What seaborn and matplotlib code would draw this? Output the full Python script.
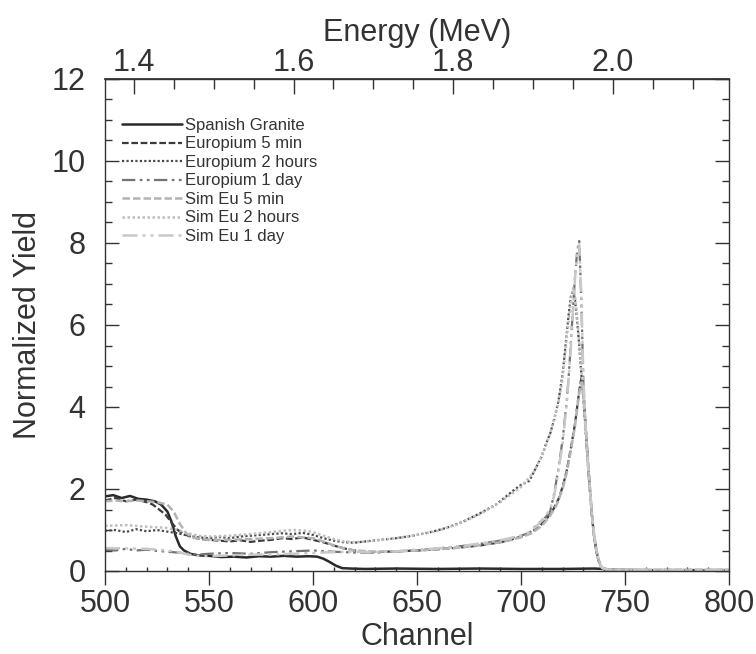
import numpy as np
import pandas as pd
import matplotlib
matplotlib.use("Agg")
import matplotlib.pyplot as plt
from matplotlib.ticker import MultipleLocator, FixedLocator, FormatStrFormatter
import seaborn as sns

# ---------------------------------------------------------------- data
granite_ch = [500, 504, 508, 512, 516, 520, 524, 527, 530, 532, 534, 536, 538, 541, 545,
              550, 556, 562, 568, 574, 580, 586, 592, 598, 602, 605, 608, 611, 614, 618,
              625, 640, 660, 680, 700, 720, 735, 740, 745, 760, 780, 800]
granite_y = [1.82, 1.85, 1.78, 1.83, 1.76, 1.74, 1.70, 1.62, 1.45, 1.20, 0.85, 0.60, 0.50,
             0.42, 0.38, 0.37, 0.34, 0.35, 0.33, 0.36, 0.35, 0.37, 0.35, 0.36, 0.35, 0.30,
             0.22, 0.13, 0.07, 0.06, 0.05, 0.06, 0.05, 0.06, 0.05, 0.05, 0.06, 0.05, 0.03,
             0.02, 0.02, 0.02]

eu5_ch = [500, 505, 510, 515, 520, 523, 526, 529, 532, 535, 538, 542, 546, 550, 555, 560,
          565, 570, 575, 580, 585, 590, 595, 600, 605, 610, 615, 620, 625, 630, 640, 650,
          660, 670, 680, 690, 695, 700, 704, 708, 712, 715, 718, 720, 722, 724, 726, 727,
          728, 729, 730, 731, 732, 733, 734, 735, 736, 737, 738, 739, 741, 745, 760, 780, 800]
eu5_y = [1.72, 1.78, 1.70, 1.74, 1.68, 1.62, 1.50, 1.38, 1.18, 1.00, 0.90, 0.82, 0.78,
         0.76, 0.74, 0.72, 0.75, 0.71, 0.74, 0.76, 0.80, 0.78, 0.82, 0.76, 0.70, 0.62,
         0.55, 0.50, 0.47, 0.46, 0.48, 0.50, 0.53, 0.57, 0.62, 0.70, 0.76, 0.84, 0.92,
         1.05, 1.25, 1.45, 1.75, 2.05, 2.45, 3.00, 3.60, 4.00, 4.40, 4.70, 4.30, 3.60,
         2.80, 2.10, 1.40, 0.90, 0.55, 0.32, 0.17, 0.08, 0.03, 0.02, 0.02, 0.02, 0.02]

eu2h_ch = [500, 505, 510, 515, 520, 525, 530, 535, 540, 545, 550, 555, 560, 565, 570, 575,
           580, 585, 590, 595, 600, 605, 610, 615, 620, 625, 632, 640, 648, 656, 664, 672,
           680, 688, 696, 700, 704, 707, 710, 712, 714, 716, 718, 720, 721, 722, 723, 724,
           725, 726, 727, 728, 729, 730, 731, 732, 733, 734, 735, 736, 737, 738, 739, 741,
           745, 760, 780, 800]
eu2h_y = [0.98, 1.00, 0.95, 1.02, 0.97, 1.00, 0.96, 0.92, 0.86, 0.82, 0.80, 0.83, 0.80,
          0.84, 0.86, 0.88, 0.90, 0.92, 0.90, 0.93, 0.88, 0.80, 0.74, 0.70, 0.69, 0.72,
          0.76, 0.80, 0.86, 0.94, 1.05, 1.20, 1.40, 1.62, 1.95, 2.10, 2.20, 2.50, 2.80,
          3.10, 3.35, 3.70, 4.15, 4.80, 5.30, 5.80, 6.30, 6.70, 6.85, 6.60, 6.10, 5.50,
          4.80, 4.20, 3.50, 2.80, 2.10, 1.40, 0.90, 0.55, 0.30, 0.15, 0.07, 0.03, 0.02,
          0.02, 0.02, 0.02]

eu1d_ch = [500, 505, 510, 515, 520, 525, 530, 535, 540, 545, 550, 560, 570, 580, 590, 600,
           610, 620, 630, 640, 650, 660, 670, 680, 690, 700, 704, 708, 710, 712, 714, 716,
           718, 720, 722, 723, 724, 725, 726, 727, 728, 729, 730, 731, 732, 733, 734, 735,
           736, 737, 738, 739, 741, 745, 760, 780, 800]
eu1d_y = [0.52, 0.50, 0.54, 0.50, 0.52, 0.49, 0.47, 0.45, 0.43, 0.40, 0.42, 0.44, 0.42,
          0.46, 0.48, 0.50, 0.47, 0.45, 0.45, 0.48, 0.50, 0.55, 0.60, 0.66, 0.74, 0.86,
          0.93, 1.15, 1.22, 1.32, 1.45, 1.90, 2.50, 3.20, 4.15, 4.80, 5.60, 6.40, 7.20,
          7.80, 8.05, 6.60, 4.60, 3.50, 2.70, 2.00, 1.40, 0.90, 0.55, 0.30, 0.15, 0.07,
          0.03, 0.02, 0.02, 0.02, 0.02]

sim5_ch = [500, 505, 510, 515, 520, 525, 530, 533, 536, 539, 542, 546, 550, 560, 570, 580,
           590, 600, 605, 610, 615, 620, 630, 640, 650, 660, 670, 680, 690, 700, 705, 710,
           714, 717, 720, 722, 724, 726, 727, 728, 729, 730, 731, 732, 733, 734, 735, 736,
           737, 738, 739, 741, 745, 760, 780, 800]
sim5_y = [1.70, 1.72, 1.70, 1.72, 1.70, 1.68, 1.62, 1.45, 1.15, 0.92, 0.82, 0.78, 0.76,
          0.76, 0.78, 0.80, 0.84, 0.80, 0.72, 0.62, 0.55, 0.50, 0.47, 0.48, 0.50, 0.53,
          0.57, 0.63, 0.70, 0.82, 0.92, 1.10, 1.35, 1.60, 2.00, 2.40, 2.95, 3.55, 3.95,
          4.35, 4.60, 4.30, 3.60, 2.85, 2.15, 1.45, 0.95, 0.60, 0.33, 0.17, 0.08, 0.04,
          0.03, 0.03, 0.03, 0.03]

sim2h_ch = [500, 510, 520, 530, 535, 540, 545, 550, 560, 570, 580, 585, 590, 595, 600, 605,
            610, 615, 620, 630, 640, 650, 660, 670, 680, 690, 700, 706, 710, 714, 718, 720,
            722, 724, 725, 726, 727, 728, 729, 730, 731, 732, 733, 734, 735, 736, 737, 738,
            739, 741, 745, 760, 780, 800]
sim2h_y = [1.10, 1.12, 1.08, 1.05, 1.00, 0.92, 0.86, 0.84, 0.86, 0.90, 0.95, 0.98, 1.00,
           0.99, 0.95, 0.86, 0.78, 0.72, 0.70, 0.74, 0.80, 0.88, 0.98, 1.15, 1.38, 1.68,
           2.05, 2.40, 2.80, 3.35, 4.10, 4.70, 5.70, 6.60, 6.90, 6.70, 6.20, 5.60, 4.90,
           4.20, 3.50, 2.80, 2.10, 1.45, 0.95, 0.60, 0.33, 0.17, 0.08, 0.04, 0.03, 0.03,
           0.03, 0.03]

sim1d_ch = [500, 510, 520, 530, 535, 540, 545, 550, 560, 570, 580, 590, 600, 610, 620, 630,
            640, 650, 660, 670, 680, 690, 700, 704, 708, 711, 714, 716, 718, 720, 722, 723,
            724, 725, 726, 727, 728, 729, 730, 731, 732, 733, 734, 735, 736, 737, 738, 739,
            741, 745, 760, 780, 800]
sim1d_y = [0.56, 0.55, 0.54, 0.50, 0.46, 0.40, 0.37, 0.36, 0.38, 0.40, 0.40, 0.42, 0.44,
           0.46, 0.47, 0.46, 0.48, 0.52, 0.55, 0.60, 0.67, 0.75, 0.86, 0.95, 1.12, 1.30,
           1.50, 1.85, 2.45, 3.10, 4.10, 4.75, 5.50, 6.35, 7.15, 7.75, 7.95, 6.70, 4.70,
           3.55, 2.75, 2.05, 1.45, 0.95, 0.58, 0.32, 0.16, 0.08, 0.04, 0.03, 0.03, 0.03,
           0.03]

series_names = ["Spanish Granite", "Europium 5 min", "Europium 2 hours", "Europium 1 day",
                "Sim Eu 5 min", "Sim Eu 2 hours", "Sim Eu 1 day"]
series_data = [(granite_ch, granite_y), (eu5_ch, eu5_y), (eu2h_ch, eu2h_y),
               (eu1d_ch, eu1d_y), (sim5_ch, sim5_y), (sim2h_ch, sim2h_y),
               (sim1d_ch, sim1d_y)]

energy_ticks = [1.4, 1.6, 1.8, 2.0]

# energy calibration of the channel axis
E_AT_500 = 1.3638     # MeV at channel 500
MEV_PER_CH = 0.0026053

# ---------------------------------------------------------------- styling
dash_dot_dot = (0, (6, 2, 1.2, 2, 1.2, 2))
line_styles = {
    "Spanish Granite":  dict(color="#2a2a2a", linestyle="-", linewidth=1.8),
    "Europium 5 min":   dict(color="#3a3a3a", linestyle=(0, (3, 1.2)), linewidth=1.6),
    "Europium 2 hours": dict(color="#4a4a4a", linestyle=(0, (1, 1)), linewidth=1.6),
    "Europium 1 day":   dict(color="#737373", linestyle=dash_dot_dot, linewidth=1.6),
    "Sim Eu 5 min":     dict(color="#b3b3b3", linestyle=(0, (3, 1.2)), linewidth=1.8),
    "Sim Eu 2 hours":   dict(color="#bebebe", linestyle=(0, (1, 1)), linewidth=1.8),
    "Sim Eu 1 day":     dict(color="#c8c8c8", linestyle=dash_dot_dot, linewidth=1.8),
}

sns.set_theme(style="ticks")
text_color = "#333333"
plt.rcParams.update({
    "font.family": ["Liberation Sans", "DejaVu Sans"],
    "text.color": text_color,
    "axes.labelcolor": text_color,
    "xtick.color": text_color,
    "ytick.color": text_color,
    "axes.edgecolor": text_color,
})

W, H = 756, 654
fig = plt.figure(figsize=(W / 100, H / 100), dpi=100)
ax = fig.add_axes([105 / W, 1 - 571 / H, (729 - 105) / W, (571 - 79) / H])

for name, (ch, y) in zip(series_names, series_data):
    df = pd.DataFrame({"Channel": ch, "Yield": y})
    sns.lineplot(data=df, x="Channel", y="Yield", ax=ax, label=name,
                 estimator=None, sort=False, **line_styles[name])

ax.set_xlim(500, 800)
ax.set_ylim(0, 12)
ax.set_xlabel("Channel", fontsize=22, labelpad=2)
ax.set_ylabel("Normalized Yield", fontsize=22, labelpad=6)

ax.xaxis.set_major_locator(MultipleLocator(50))
ax.xaxis.set_minor_locator(MultipleLocator(10))
ax.yaxis.set_major_locator(MultipleLocator(2))
ax.yaxis.set_minor_locator(MultipleLocator(0.5))

for sp in ax.spines.values():
    sp.set_linewidth(1.0)
    sp.set_visible(True)

ax.tick_params(axis="y", which="major", direction="in", length=10, width=1,
               right=True, labelsize=22, pad=14)
ax.tick_params(axis="y", which="minor", direction="in", length=5, width=1, right=True)
ax.tick_params(axis="x", which="major", direction="out", length=10, width=1,
               labelsize=22, pad=3, top=False)
ax.tick_params(axis="x", which="minor", direction="in", length=3, width=1, top=False)

# energy scale on top
def ch_to_mev(c):
    return E_AT_500 + (np.asarray(c) - 500) * MEV_PER_CH

def mev_to_ch(e):
    return 500 + (np.asarray(e) - E_AT_500) / MEV_PER_CH

e_lo, e_hi = ch_to_mev(500), ch_to_mev(800)
minor_e = [round(1.35 + 0.05 * i, 2) for i in range(17)]
minor_e = [e for e in minor_e if e_lo <= e <= e_hi and e not in energy_ticks]

top = ax.secondary_xaxis("top", functions=(ch_to_mev, mev_to_ch))
top.xaxis.set_major_locator(FixedLocator(energy_ticks))
top.xaxis.set_minor_locator(FixedLocator(minor_e))
top.xaxis.set_major_formatter(FormatStrFormatter("%.1f"))
top.tick_params(which="major", direction="in", length=11, width=1, labelsize=22, pad=1)
top.tick_params(which="minor", direction="in", length=7, width=1)
top.set_xlabel("Energy (MeV)", fontsize=22, labelpad=5)

ax.legend(loc="upper left", bbox_to_anchor=(0.027, 0.921), frameon=False,
          fontsize=12, handlelength=3.6, handletextpad=0.18,
          labelspacing=0.21, borderaxespad=0, borderpad=0)

fig.savefig("out.png", dpi=100)
